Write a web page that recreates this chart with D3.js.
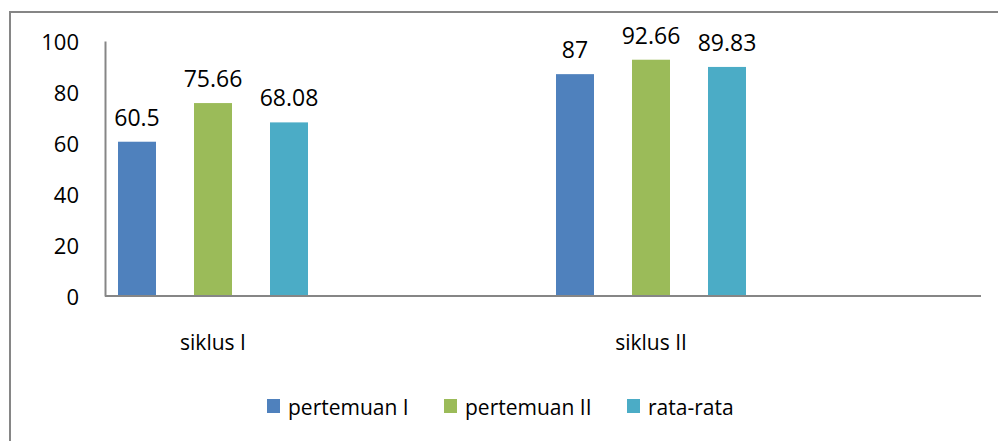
<!DOCTYPE html>
<html>
<head>
<meta charset="utf-8">
<script src="https://cdnjs.cloudflare.com/ajax/libs/d3/7.8.5/d3.min.js"></script>
<style>
  body { margin: 0; background: #fff; }
  text { font-family: "Open Sans", "Noto Sans", sans-serif; fill: #000; }
</style>
</head>
<body>
<div id="root"></div>
<script>
// data
const categories = ['siklus I', 'siklus II']
const seriesNames = ['pertemuan I', 'pertemuan II', 'rata-rata']
const pertemuanI = [60.5, 87]
const pertemuanII = [75.66, 92.66]
const rataRata = [68.08, 89.83]
const yTicks = [0, 20, 40, 60, 80, 100]
const colors = ['#4F81BD', '#9BBB59', '#4BACC6']

const series = [pertemuanI, pertemuanII, rataRata]

const w = 998, h = 441

const svg = d3.select('#root')
    .append('svg')
    .attr('width', w)
    .attr('height', h)

// outer chart border (only left and top are inside the picture)
svg.append('path')
    .attr('d', 'M10,441 V12 H998')
    .attr('fill', 'none')
    .attr('stroke', '#868686')
    .attr('stroke-width', 2)

const axisLeft = 105, axisRight = 981
const y = d3.scaleLinear().domain([0, 100]).range([296, 41])

const x0 = d3.scaleBand()
    .domain(categories)
    .range([-6, 870])

const x1 = d3.scaleBand()
    .domain(d3.range(series.length))
    .range([0, 190])
    .paddingInner(0.5)

const groupOffset = (x0.bandwidth() - 190) / 2

// bars
categories.forEach(function(cat, i) {
    const g = svg.append('g')
        .attr('transform', 'translate(' + (x0(cat) + groupOffset) + ',0)')

    series.forEach(function(s, j) {
        g.append('rect')
            .attr('x', x1(j))
            .attr('y', y(s[i]))
            .attr('width', x1.bandwidth())
            .attr('height', y(0) - y(s[i]))
            .attr('fill', colors[j])

        g.append('text')
            .attr('x', x1(j) + x1.bandwidth() / 2)
            .attr('y', y(s[i]) - 16)
            .attr('text-anchor', 'middle')
            .style('font-size', '23px')
            .text(s[i])
    })
})

// y axis
const yAxis = svg.append('g')
    .attr('transform', 'translate(' + axisLeft + ',0)')
    .call(d3.axisLeft(y).tickValues(yTicks).tickSize(0).tickPadding(26))
yAxis.select('.domain').attr('stroke', '#868686').attr('stroke-width', 2)
yAxis.selectAll('text')
    .attr('dy', '0.4em')
    .style('font-size', '22px')
    .style('font-family', '"Open Sans", sans-serif')
    .attr('fill', '#000')

// x axis line
svg.append('line')
    .attr('x1', axisLeft)
    .attr('x2', axisRight)
    .attr('y1', y(0))
    .attr('y2', y(0))
    .attr('stroke', '#868686')
    .attr('stroke-width', 2)

// category labels
svg.selectAll('.cat')
    .data(categories)
    .enter()
    .append('text')
    .attr('class', 'cat')
    .attr('x', d => x0(d) + x0.bandwidth() / 2)
    .attr('y', 350)
    .attr('text-anchor', 'middle')
    .style('font-size', '21px')
    .text(d => d)

// legend
const legendX = [267, 444, 627]
const legend = svg.selectAll('.leg')
    .data(seriesNames)
    .enter()
    .append('g')
    .attr('class', 'leg')
    .attr('transform', (d, i) => 'translate(' + legendX[i] + ',399)')

legend.append('rect')
    .attr('width', 13)
    .attr('height', 14)
    .attr('fill', (d, i) => colors[i])

legend.append('text')
    .attr('x', 21)
    .attr('y', 16)
    .style('font-size', '21px')
    .text(d => d)
</script>
</body>
</html>
